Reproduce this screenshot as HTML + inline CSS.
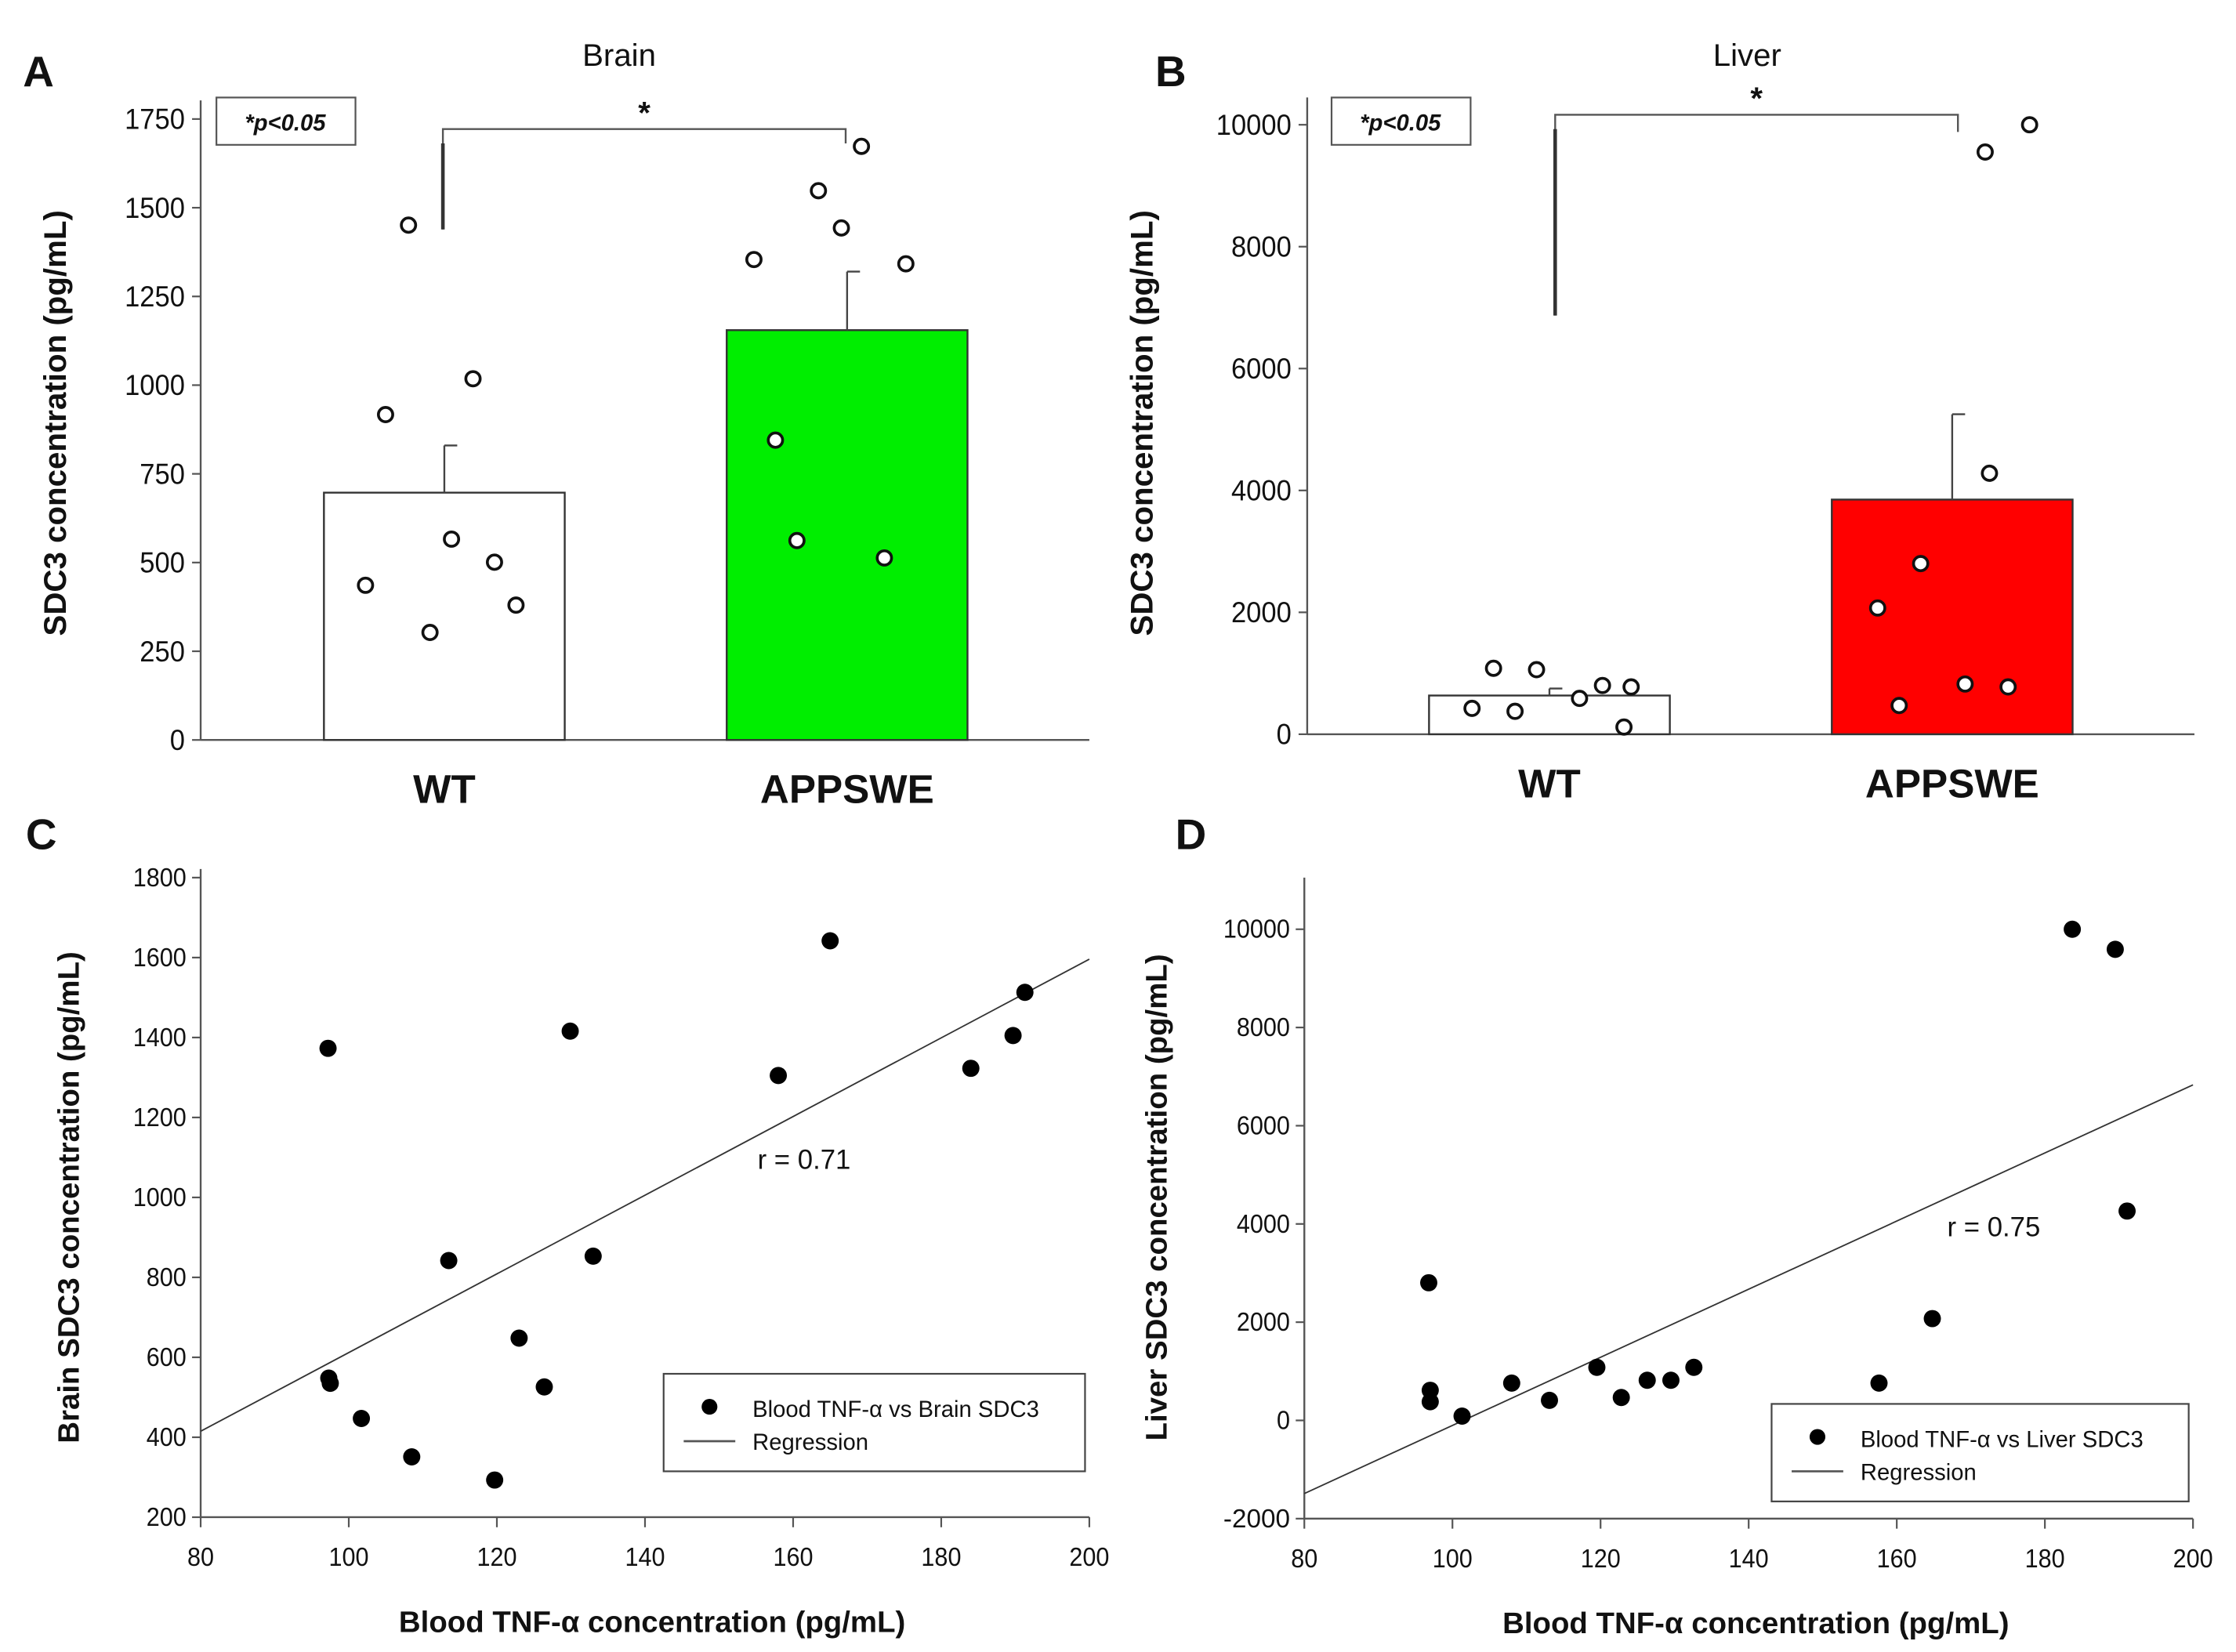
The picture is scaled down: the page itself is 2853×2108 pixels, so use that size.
<!DOCTYPE html>
<html><head><meta charset="utf-8"><style>
html,body{margin:0;padding:0;background:#fff;}
svg{display:block;}
text{font-family:"Liberation Sans",sans-serif;fill:#111;}
</style></head><body>
<svg id="fig" width="2853" height="2108" viewBox="0 0 1560 1152" preserveAspectRatio="none" xmlns="http://www.w3.org/2000/svg"></svg>
<script>
// ---- Panel A data (Brain) ----
const aCats = ["WT", "APPSWE"];
const aMeans = [697, 1155];
const aErr = [133, 165];
const aWT = [1451, 917, 1018, 566, 501, 436, 380, 303];
const aWTjit = [-25, -41, 20, 5, 35, -55, 50, -10];
const aAPP = [1673, 1548, 1443, 1354, 1342, 845, 562, 513];
const aAPPjit = [10, -20, -4, -65, 41, -50, -35, 26];
const aTicks = [0, 250, 500, 750, 1000, 1250, 1500, 1750];
// ---- Panel B data (Liver) ----
const bCats = ["WT", "APPSWE"];
const bMeans = [635, 3850];
const bErr = [115, 1400];
const bWT = [1082, 1059, 424, 376, 800, 776, 588, 118];
const bWTjit = [-39, -9, -54, -24, 37, 57, 21, 52];
const bAPP = [10000, 9553, 4282, 2800, 2071, 824, 776, 471];
const bAPPjit = [54, 23, 26, -22, -52, 9, 39, -37];
const bTicks = [0, 2000, 4000, 6000, 8000, 10000];
// ---- Panel C data ----
const cX = [97.2, 97.3, 97.5, 101.7, 108.5, 113.5, 119.7, 123, 126.4, 129.9, 133, 158, 165, 184, 189.7, 191.3];
const cY = [1373, 548, 535, 447, 351, 842, 293, 648, 526, 1416, 853, 1305, 1642, 1323, 1405, 1513];
const cRegX = [80, 200];
const cRegY = [415, 1596];
const cYTicks = [200, 400, 600, 800, 1000, 1200, 1400, 1600, 1800];
const xTicks = [80, 100, 120, 140, 160, 180, 200];
// ---- Panel D data ----
const dX = [96.8, 97, 97, 101.3, 108, 113.1, 119.5, 122.8, 126.3, 129.5, 132.6, 157.6, 164.8, 183.7, 189.5, 191.1];
const dY = [2803, 613, 380, 88, 759, 409, 1080, 467, 818, 818, 1080, 759, 2073, 10000, 9591, 4263];
const dRegX = [80, 200];
const dRegY = [-1489, 6832];
const dYTicks = [-2000, 0, 2000, 4000, 6000, 8000, 10000];

const NS = "http://www.w3.org/2000/svg";
const svg = document.getElementById("fig");
function mk(tag, attrs, parent, txt) {
  const e = document.createElementNS(NS, tag);
  for (const k in attrs) e.setAttribute(k, attrs[k]);
  if (txt !== undefined) e.textContent = txt;
  (parent || svg).appendChild(e);
  return e;
}
function lin(d0, d1, r0, r1) { return v => r0 + (v - d0) * (r1 - r0) / (d1 - d0); }

function barPanel(o) {
  const g = mk("g", {});
  
  
  const y = lin(0, o.ymax, o.y0, o.y1);
  // axes
  const ya = mk("line", {x1: o.ax, y1: o.axTop, x2: o.ax, y2: o.y0, stroke: "#555", "stroke-width": 1.3}, g);
   
  const xa = mk("line", {x1: o.ax, y1: o.y0, x2: o.axRight, y2: o.y0, stroke: "#555", "stroke-width": 1.3}, g);
   
  o.ticks.forEach(t => {
    mk("line", {x1: o.ax - 6, y1: y(t), x2: o.ax, y2: y(t), stroke: "#555", "stroke-width": 1.2}, g);
    const tl = mk("text", {x: o.ax - 11, y: y(t) + 7, "text-anchor": "end", "font-size": 20, "textLength": String(t).length * 10.5, "lengthAdjust": "spacingAndGlyphs"}, g, t);
     
  });
  o.cats.forEach((c, i) => {
    const cx = o.centers[i];
    const b = mk("rect", {x: cx - o.bw / 2, y: y(o.means[i]), width: o.bw, height: o.y0 - y(o.means[i]), fill: o.colors[i], stroke: "#333", "stroke-width": 1.3}, g);
     
    const top = y(o.means[i] + o.err[i]);
    mk("line", {x1: cx, y1: y(o.means[i]), x2: cx, y2: top, stroke: "#444", "stroke-width": 1.3}, g);
    const eb = mk("line", {x1: cx, y1: top, x2: cx + 9, y2: top, stroke: "#444", "stroke-width": 1.3}, g);
     
    const lab = mk("text", {x: cx, y: o.y0 + 44, "text-anchor": "middle", "font-size": 28, "font-weight": "bold"}, g, c);
     
    const pts = o.pts[i], jit = o.jit[i];
    pts.forEach((v, k) => {
      const p = mk("circle", {cx: cx + jit[k], cy: y(v), r: 5, fill: "#fff", stroke: "#111", "stroke-width": 2}, g);
       
    });
  });
  // bracket
  const br = mk("polyline", {points: `${o.brL},${o.brLb} ${o.brL},${o.brT} ${o.brR},${o.brT} ${o.brR},${o.brRb}`, fill: "none", stroke: "#555", "stroke-width": 1.3}, g);
   
  mk("line", {x1: o.brL, y1: o.brLb, x2: o.brL, y2: o.brT + 10, stroke: "#333", "stroke-width": 2.5}, g);
  const st = mk("text", {x: (o.brL + o.brR) / 2, y: o.brT - 4, "text-anchor": "middle", "font-size": 22, "font-weight": "bold"}, g, "*");
   
  const pb = mk("rect", {x: o.pbx, y: 68, width: 97, height: 33, fill: "#fff", stroke: "#555", "stroke-width": 1.2}, g);
   
  const pt = mk("text", {x: o.pbx + 48, y: 91, "text-anchor": "middle", "font-size": 16, "font-style": "italic", "font-weight": "bold"}, g, "*p<0.05");
   
  const ti = mk("text", {x: o.titleX, y: 46, "text-anchor": "middle", "font-size": 22}, g, o.title);
   
  const pl = mk("text", {x: o.letterX, y: 60, "font-size": 30, "font-weight": "bold"}, g, o.letter);
   
  const yl = mk("text", {x: 0, y: 0, "text-anchor": "middle", "font-size": 22, "font-weight": "bold", transform: `translate(${o.ylx},${o.yly}) rotate(-90)`}, g, "SDC3 concentration (pg/mL)");
   
}

barPanel({name: "panel-a-brain", letter: "A", letterX: 16, title: "Brain", titleX: 432, ax: 140, axTop: 70, axRight: 760, y0: 516, y1: 83, ymax: 1750,
  ticks: aTicks, cats: aCats, means: aMeans, err: aErr, centers: [310, 591], bw: 168, colors: ["#fff", "#00ee00"],
  pts: [aWT, aAPP], jit: [aWTjit, aAPPjit], brL: 309, brR: 590, brT: 90, brLb: 160, brRb: 100, pbx: 151, ylx: 46, yly: 295});
barPanel({name: "panel-b-liver", letter: "B", letterX: 806, title: "Liver", titleX: 1219, ax: 912, axTop: 68, axRight: 1531, y0: 512, y1: 87, ymax: 10000,
  ticks: bTicks, cats: bCats, means: bMeans, err: bErr, centers: [1081, 1362], bw: 168, colors: ["#fff", "#ff0000"],
  pts: [bWT, bAPP], jit: [bWTjit, bAPPjit], brL: 1085, brR: 1366, brT: 80, brLb: 220, brRb: 92, pbx: 929, ylx: 804, yly: 295});

function scatterPanel(o) {
  const g = mk("g", {});
  
  
  const x = lin(80, 200, o.x0, o.x1);
  const y = lin(o.ymin, o.ymax, o.y0, o.y1);
  const ya = mk("line", {x1: o.x0, y1: o.axTop, x2: o.x0, y2: o.y0, stroke: "#555", "stroke-width": 1.3}, g);
   
  const xa = mk("line", {x1: o.x0, y1: o.y0, x2: o.x1, y2: o.y0, stroke: "#555", "stroke-width": 1.3}, g);
   
  o.yt.forEach(t => {
    mk("line", {x1: o.x0 - 6, y1: y(t), x2: o.x0, y2: y(t), stroke: "#555", "stroke-width": 1.2}, g);
    const tl = mk("text", {x: o.x0 - 10, y: y(t) + 6, "text-anchor": "end", "font-size": 18, "textLength": String(t).length * 9.3, "lengthAdjust": "spacingAndGlyphs"}, g, t);
     
  });
  xTicks.forEach(t => {
    mk("line", {x1: x(t), y1: o.y0, x2: x(t), y2: o.y0 + 7, stroke: "#555", "stroke-width": 1.2}, g);
    const tl = mk("text", {x: x(t), y: o.y0 + 34, "text-anchor": "middle", "font-size": 18, "textLength": String(t).length * 9.3, "lengthAdjust": "spacingAndGlyphs"}, g, t);
     
  });
  const rl = mk("line", {x1: x(o.regX[0]), y1: y(o.regY[0]), x2: x(o.regX[1]), y2: y(o.regY[1]), stroke: "#333", "stroke-width": 1}, g);
   
  o.xs.forEach((v, i) => {
    const p = mk("circle", {cx: x(v), cy: y(o.ys[i]), r: 6, fill: "#000"}, g);
     
  });
  const rt = mk("text", {x: o.rx, y: o.ry, "text-anchor": "middle", "font-size": 19}, g, o.rtxt);
   
  const lg = mk("g", {}, g);
   
  mk("rect", {x: o.lx, y: o.ly, width: o.lw, height: 68, fill: "#fff", stroke: "#444", "stroke-width": 1.2}, lg);
  mk("circle", {cx: o.lx + 32, cy: o.ly + 23, r: 5.5, fill: "#000"}, lg);
  const l1 = mk("text", {x: o.lx + 62, y: o.ly + 30, "font-size": 16, fill: "#333"}, lg, o.leg);
   
  mk("line", {x1: o.lx + 14, y1: o.ly + 47, x2: o.lx + 50, y2: o.ly + 47, stroke: "#555", "stroke-width": 1.5}, lg);
  const l2 = mk("text", {x: o.lx + 62, y: o.ly + 53, "font-size": 16, fill: "#333"}, lg, "Regression");
   
  const xl = mk("text", {x: (o.x0 + o.x1) / 2 + 5, y: o.y0 + 80, "text-anchor": "middle", "font-size": 21, "font-weight": "bold"}, g, "Blood TNF-α concentration (pg/mL)");
   
  const yl = mk("text", {x: 0, y: 0, "text-anchor": "middle", "font-size": 21, "font-weight": "bold", transform: `translate(${o.ylx},${o.yly}) rotate(-90)`}, g, o.ytitle);
   
  const pl = mk("text", {x: o.letterX, y: 592, "font-size": 30, "font-weight": "bold"}, g, o.letter);
   
}

scatterPanel({name: "panel-c-brain-scatter", letter: "C", letterX: 18, x0: 140, x1: 760, y0: 1058, y1: 612, ymin: 200, ymax: 1800, axTop: 606,
  yt: cYTicks, xs: cX, ys: cY, regX: cRegX, regY: cRegY, rx: 561, ry: 815, rtxt: "r = 0.71",
  lx: 463, ly: 958, lw: 294, leg: "Blood TNF-α vs Brain SDC3", ytitle: "Brain SDC3 concentration (pg/mL)", ylx: 55, yly: 835});
scatterPanel({name: "panel-d-liver-scatter", letter: "D", letterX: 820, x0: 910, x1: 1530, y0: 1059, y1: 648, ymin: -2000, ymax: 10000, axTop: 612,
  yt: dYTicks, xs: dX, ys: dY, regX: dRegX, regY: dRegY, rx: 1391, ry: 862, rtxt: "r = 0.75",
  lx: 1236, ly: 979, lw: 291, leg: "Blood TNF-α vs Liver SDC3", ytitle: "Liver SDC3 concentration (pg/mL)", ylx: 814, yly: 835});
</script>
</body></html>
